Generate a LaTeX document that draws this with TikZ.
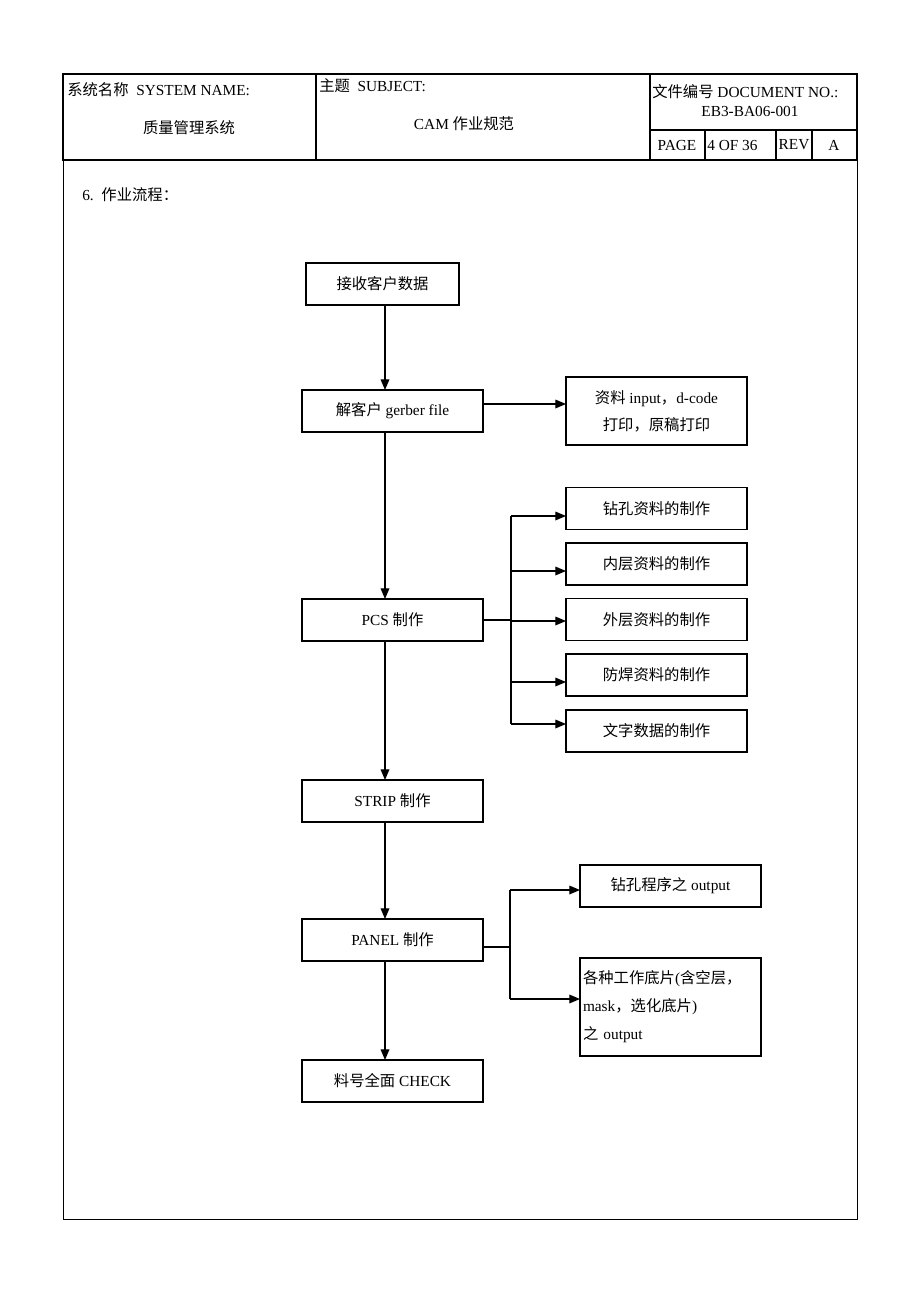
\documentclass[tikz,border=0pt]{standalone}
\usepackage{fontspec}
\setmainfont{Liberation Serif}
\newfontfamily\cjk{Noto Sans CJK SC}
\usetikzlibrary{arrows.meta,positioning}
\newcommand{\zh}[1]{{\cjk #1}}

\begin{document}
\begin{tikzpicture}[x=0.75pt,y=-0.75pt,
    font=\fontsize{11.5}{14}\selectfont,
    stepbox/.style={draw, line width=1pt, minimum width=135.75pt, minimum height=31.5pt,
      inner sep=0pt, outer sep=0pt, align=center},
    arr/.style={-{Triangle[length=8pt,width=6.5pt]}, line width=0.9pt},
    bus/.style={line width=0.9pt},
    txt/.style={inner sep=0pt, anchor=west}]
  \useasboundingbox (0,0) rectangle (920,1302);

  % header table
  \draw[line width=1.6pt] (63,74) rectangle (857,160);
  \draw[line width=0.9pt] (316,74) -- (316,160) (650,74) -- (650,160) (650,130) -- (857,130)
    (705,130) -- (705,160) (776,130) -- (776,160) (812,130) -- (812,160);
  \draw[line width=0.7pt] (63,160) -- (63,1219) -- (857,1219) -- (857,160);

  \node[txt] (sysname) at (67,90) {\zh{系统名称}\ \ SYSTEM NAME:};
  \node (sysval) at (189,128) {\zh{质量管理系统}};
  \node[txt] (subj) at (319,86) {\zh{主题}\ \ SUBJECT:};
  \node (subjval) at (464,124) {CAM \zh{作业规范}};
  \node[txt] (docno) at (652,92) {\zh{文件编号} DOCUMENT NO.:};
  \node (docval) at (750,111) {EB3-BA06-001};
  \node (page) at (677,145) {PAGE};
  \node[txt] (pageval) at (707,145) {4 OF 36};
  \node (rev) at (794,145) {REV};
  \node (revval) at (834,145) {A};

  \node[txt] (title) at (82,195) {6.\ \ \zh{作业流程：}};

  % main flow
  \node[stepbox, minimum width=114.75pt] (recv) at (382.5,284) {\zh{接收客户数据}};
  \node[stepbox] (gerber) at (392.5,411) {\zh{解客户} gerber file};
  \node[stepbox, minimum height=51pt, right=62.25pt of gerber] (input)
    {\zh{资料} input\zh{，}d-code\\[6.25pt]\zh{打印，原稿打印}};
  \node[stepbox] (pcs) at (392.5,620) {PCS \zh{制作}};
  \node[stepbox] (strip) at (392.5,801) {STRIP \zh{制作}};
  \node[stepbox] (panel) at (392.5,940) {PANEL \zh{制作}};
  \node[stepbox] (check) at (392.5,1081) {\zh{料号全面} CHECK};

  % PCS outputs
  \node[stepbox] (drill) at (656.5,508.5) {\zh{钻孔资料的制作}};
  \node[stepbox] (inner) at (656.5,564) {\zh{内层资料的制作}};
  \node[stepbox] (outer) at (656.5,619.5) {\zh{外层资料的制作}};
  \node[stepbox] (solder) at (656.5,675) {\zh{防焊资料的制作}};
  \node[stepbox] (legend) at (656.5,731) {\zh{文字数据的制作}};

  % PANEL outputs
  \node[stepbox] (drillout) at (670.5,886) {\zh{钻孔程序之} output};
  \node[stepbox, minimum height=73.5pt, text width=131.25pt, inner xsep=2.25pt, align=left]
    (films) at (670.5,1007)
    {\zh{各种工作底片}(\zh{含空层，}\\[7pt]mask\zh{，选化底片})\\[7pt]\zh{之} output};

  % connectors
  \coordinate (spine) at (385,0);
  \draw[arr] (recv.south -| spine) -- (gerber.north -| spine);
  \draw[arr] (gerber.south -| spine) -- (pcs.north -| spine);
  \draw[arr] (pcs.south -| spine) -- (strip.north -| spine);
  \draw[arr] (strip.south -| spine) -- (panel.north -| spine);
  \draw[arr] (panel.south -| spine) -- (check.north -| spine);

  \coordinate (gout) at ([yshift=5.25pt]gerber.east);
  \draw[arr] (gout) -- (gout -| input.west);

  \coordinate (pcsbus) at (511,620);
  \draw[bus] (pcs.east) -- (pcsbus);
  \draw[bus] (511,516) -- (511,724);
  \foreach \n/\y in {drill/516,inner/571,outer/621,solder/682,legend/724}{
    \coordinate (b) at (511,\y);
    \draw[arr] (b) -- (b -| \n.west);
  }

  \coordinate (panelbus) at (510,947);
  \draw[bus] (panelbus -| panel.east) -- (panelbus);
  \draw[bus] (510,890) -- (510,999);
  \foreach \n/\y in {drillout/890,films/999}{
    \coordinate (b) at (510,\y);
    \draw[arr] (b) -- (b -| \n.west);
  }
\end{tikzpicture}
\end{document}
